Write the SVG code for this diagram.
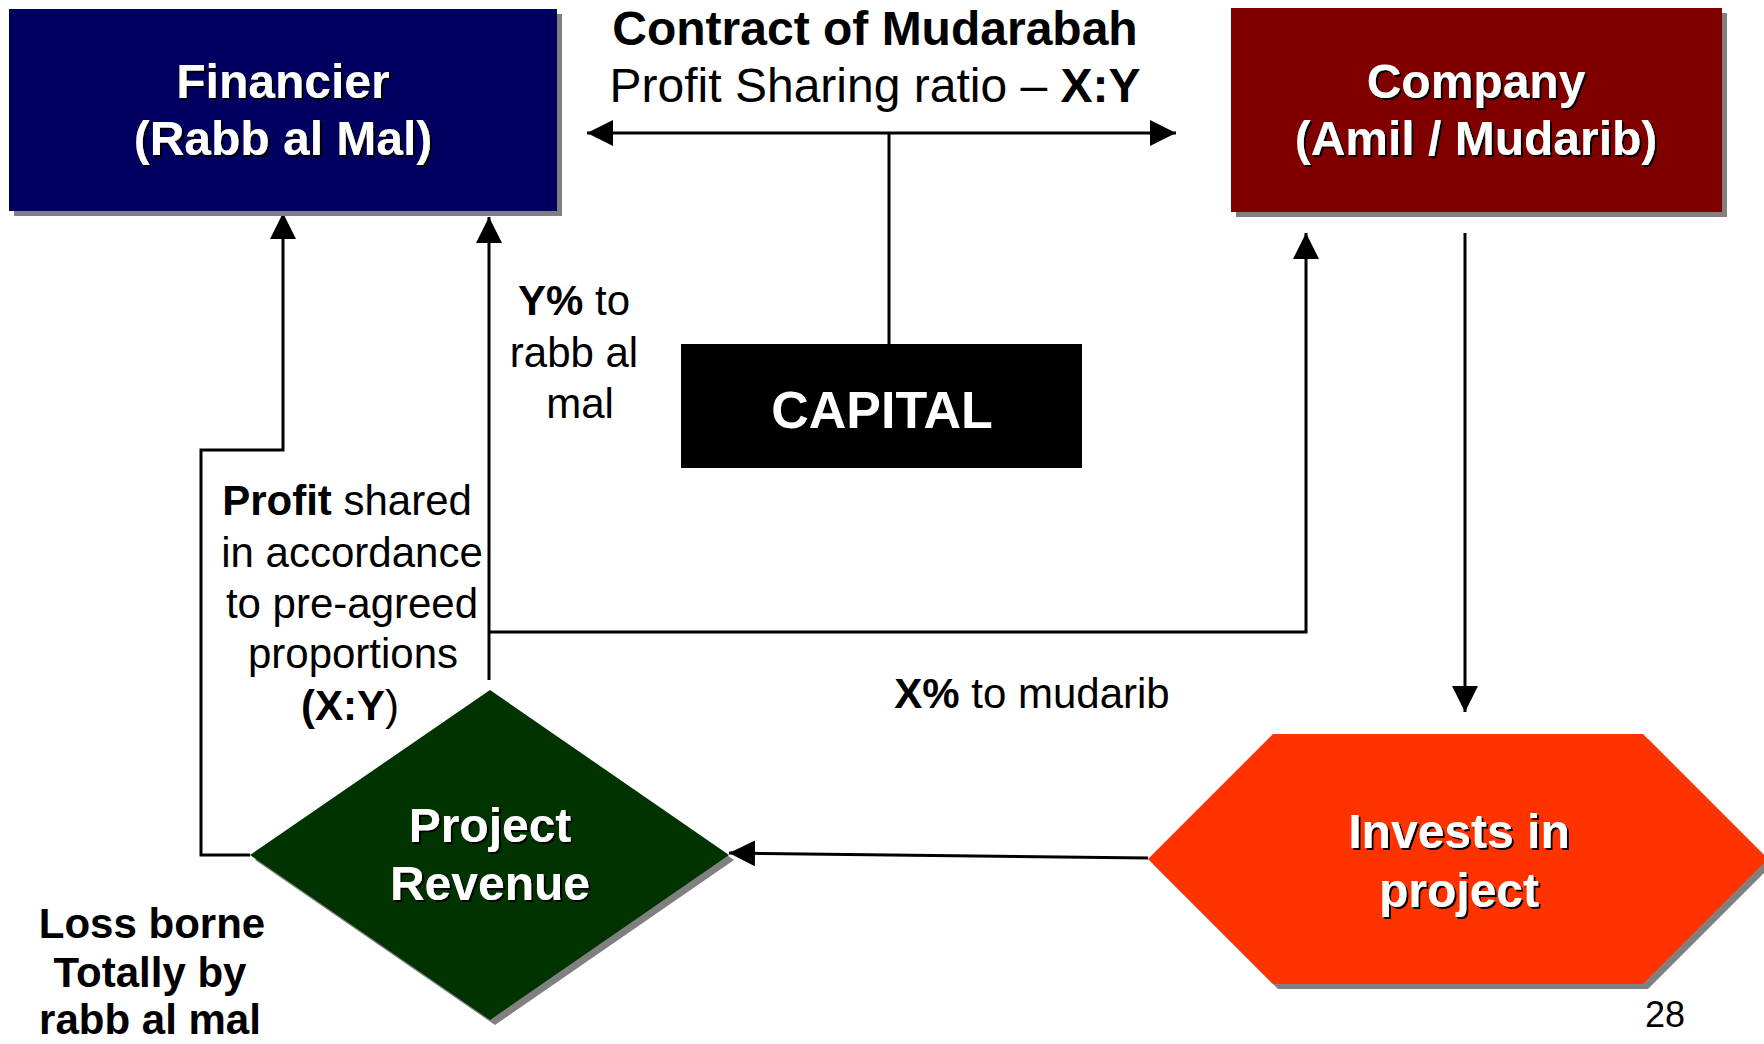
<svg xmlns="http://www.w3.org/2000/svg" width="1764" height="1044" viewBox="0 0 1764 1044">
  <defs>
    <marker id="arrow" viewBox="0 0 26 26" refX="26" refY="13" markerWidth="26" markerHeight="26" markerUnits="userSpaceOnUse" orient="auto-start-reverse">
      <path d="M0,0 L26,13 L0,26 z" fill="#000"/>
    </marker>
    <filter id="txtShadow" x="-5%" y="-5%" width="110%" height="120%">
      <feDropShadow dx="2" dy="2" stdDeviation="0" flood-color="#000" flood-opacity="0.95"/>
    </filter>
  </defs>
  <style>
    text { font-family: "Liberation Sans", Arial, sans-serif; }
    .node-label { fill: #fff; font-weight: bold; font-size: 48px; text-anchor: middle; filter: url(#txtShadow); }
    .label { fill: #000; font-size: 42px; text-anchor: middle; }
    .title { font-size: 48px; }
    .b { font-weight: bold; }
    .shadow { fill: #808080; }
    .conn { fill: none; stroke: #000; stroke-width: 3; }
  </style>

  <rect width="1764" height="1044" fill="#fff"/>

  <!-- connectors -->
  <g id="connectors" class="conn">
    <path d="M587,133 H1176" marker-start="url(#arrow)" marker-end="url(#arrow)"/>
    <path d="M889,133 V344"/>
    <path d="M250,855 H201 V450 H283 V213" marker-end="url(#arrow)"/>
    <path d="M489,680 V217" marker-end="url(#arrow)"/>
    <path d="M489,632 H1306 V233" marker-end="url(#arrow)"/>
    <path d="M1465,233 V712" marker-end="url(#arrow)"/>
    <path d="M1148,858 L729,853" marker-end="url(#arrow)"/>
  </g>

  <!-- Financier -->
  <g id="financier">
    <rect class="shadow" x="14" y="14" width="548" height="202"/>
    <rect x="9" y="9" width="548" height="202" fill="#000060"/>
    <text class="node-label" x="283" y="98">Financier</text>
    <text class="node-label" x="283" y="155">(Rabb al Mal)</text>
  </g>

  <!-- Company -->
  <g id="company">
    <rect class="shadow" x="1236" y="13" width="491" height="204"/>
    <rect x="1231" y="8" width="491" height="204" fill="#800000"/>
    <text class="node-label" x="1476" y="98">Company</text>
    <text class="node-label" x="1476" y="155">(Amil / Mudarib)</text>
  </g>

  <!-- Contract title -->
  <g id="contract">
    <text class="label title b" x="875" y="45">Contract of Mudarabah</text>
    <text class="label title" x="875" y="102">Profit Sharing ratio – <tspan class="b">X:Y</tspan></text>
  </g>

  <!-- Capital -->
  <g id="capital">
    <rect x="681" y="344" width="401" height="124" fill="#000"/>
    <text x="882" y="428" fill="#fff" font-weight="bold" font-size="52" text-anchor="middle">CAPITAL</text>
  </g>

  <!-- Project revenue -->
  <g id="project-revenue">
    <polygon class="shadow" points="495,695 734,860 495,1025 255,860"/>
    <polygon points="490,690 729,855 490,1020 250,855" fill="#003300"/>
    <text class="node-label" x="490" y="842">Project</text>
    <text class="node-label" x="490" y="900">Revenue</text>
  </g>

  <!-- Invests in project -->
  <g id="invests">
    <polygon class="shadow" points="1153,864 1278,739 1648,739 1773,864 1648,989 1278,989"/>
    <polygon points="1148,859 1273,734 1643,734 1768,859 1643,984 1273,984" fill="#ff3300"/>
    <text class="node-label" x="1459" y="848">Invests in</text>
    <text class="node-label" x="1459" y="907">project</text>
  </g>

  <!-- flow labels -->
  <g id="label-y">
    <text class="label" x="574" y="315"><tspan class="b">Y%</tspan> to</text>
    <text class="label" x="574" y="367">rabb al</text>
    <text class="label" x="580" y="418">mal</text>
  </g>
  <g id="label-profit">
    <text class="label" x="347" y="515"><tspan class="b">Profit</tspan> shared</text>
    <text class="label" x="352" y="567">in accordance</text>
    <text class="label" x="352" y="618">to pre-agreed</text>
    <text class="label" x="353" y="668">proportions</text>
    <text class="label" x="350" y="720"><tspan class="b">(X:Y</tspan>)</text>
  </g>
  <g id="label-x">
    <text class="label" x="1032" y="708"><tspan class="b">X%</tspan> to mudarib</text>
  </g>
  <g id="label-loss">
    <text class="label b" x="152" y="938">Loss borne</text>
    <text class="label b" x="150" y="987">Totally by </text>
    <text class="label b" x="150" y="1034">rabb al mal</text>
  </g>

  <text x="1665" y="1027" font-size="36" text-anchor="middle">28</text>
</svg>
